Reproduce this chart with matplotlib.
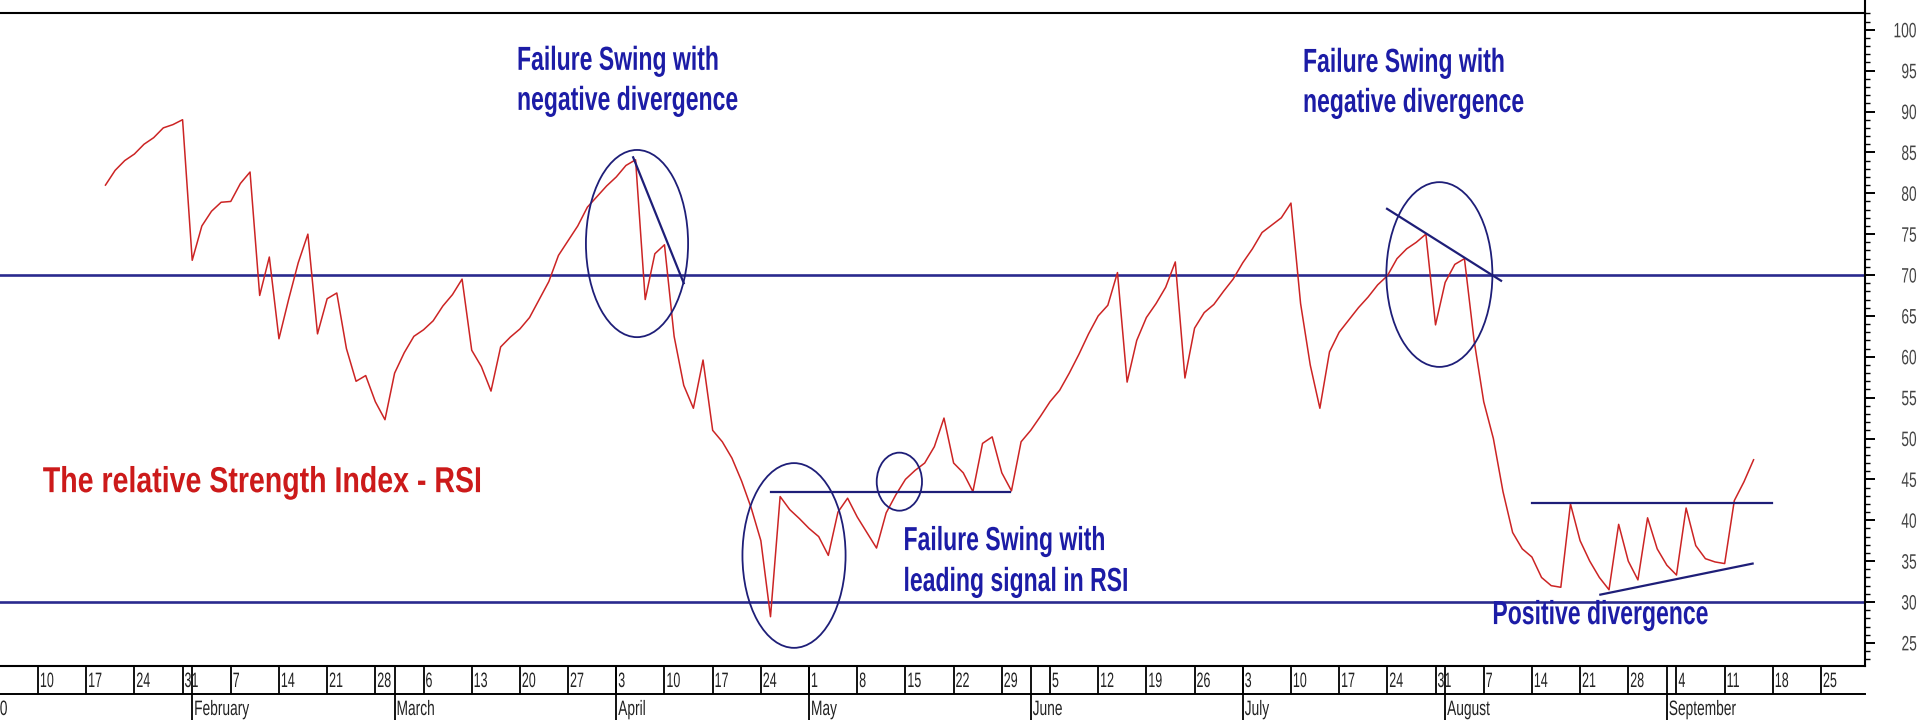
import numpy as np
import pandas as pd
import matplotlib
matplotlib.use("Agg")
import matplotlib.pyplot as plt
from matplotlib.patches import Ellipse
from matplotlib.lines import Line2D
from matplotlib import patheffects
from matplotlib.transforms import Affine2D

# ---------------- data ----------------
AXIS_ORIGIN = "2000-01-10"          # first labelled Monday of the date strip
SERIES_START = "2000-01-19"          # first RSI value (business days follow)
rsi_values = [
    81.0, 82.8, 84.0, 84.8, 86.0, 86.8, 88.0, 88.4, 89.0,              # Jan 19 - Jan 31
    71.8, 76.0, 77.8, 78.9, 79.0, 81.2, 82.6, 67.5, 72.2, 62.2,        # Feb
    67.0, 71.5, 75.0, 62.8, 67.1, 67.8, 61.0, 57.0, 57.7, 54.5,
    52.3, 58.0, 60.5, 62.5, 63.3, 64.4, 66.2, 67.6, 69.5, 60.8,        # Mar
    58.8, 55.8, 61.2, 62.4, 63.4, 64.8, 67.0, 69.2, 72.4, 74.2,
    76.0, 78.3, 79.6, 80.9, 82.0, 83.4, 84.1, 67.0, 72.6, 73.7,        # Apr
    62.5, 56.5, 53.7, 59.6, 51.0, 49.6, 47.6, 44.8, 41.5, 37.5,
    28.2, 42.9, 41.3, 40.2, 39.0, 38.0, 35.7, 41.0, 42.7, 40.4,        # May
    38.5, 36.6, 40.9, 43.1, 45.0, 46.1, 47.0, 49.0, 52.5, 47.0,
    45.8, 43.5, 49.4, 50.2, 45.8, 43.6, 49.6, 51.0, 52.7, 54.5,        # Jun
    55.9, 58.0, 60.3, 62.8, 65.0, 66.3, 70.3, 56.9, 62.0, 64.8,
    66.5, 68.5, 71.6, 57.4, 63.5, 65.4, 66.4, 68.0, 69.5, 71.5,        # Jul
    73.2, 75.2, 76.1, 77.0, 78.8, 66.5, 59.0, 53.7, 60.6, 63.0,
    64.5, 66.0, 67.3, 68.8, 69.9, 72.0, 73.2, 74.0, 75.0, 63.9,        # Aug
    69.1, 71.3, 72.0, 62.0, 54.5, 50.0, 43.5, 38.5, 36.5, 35.5,
    33.0, 32.0, 31.8, 42.0, 37.5, 35.0, 33.0, 31.5, 39.5, 35.0,        # Sep
    32.7, 40.3, 36.5, 34.5, 33.3, 41.5, 36.9, 35.3, 34.9, 34.7,
    42.4, 44.7, 47.4,
]
levels = [70, 30]
ytick_values = list(range(25, 101, 5))
week_start, week_end = "2000-01-10", "2000-09-25"
month_names = ["February", "March", "April", "May", "June", "July", "August", "September"]
month_first_days = ["2000-02-01", "2000-03-01", "2000-04-03", "2000-05-01",
                    "2000-06-01", "2000-07-03", "2000-08-01", "2000-09-01"]
year_label = "2000"

# annotation shapes, in (business-day index, RSI value)
circles = [  # centre x, centre y, width (days), height (RSI points)
    (62.15, 73.85, 10.6, 22.9),
    (78.44, 35.69, 10.7, 22.6),
    (89.37, 44.72, 4.7, 7.1),
    (145.4, 70.06, 11.0, 22.6),
]
trend_lines = [
    ((61.75, 84.4), (67.0, 69.0)),
    ((76.05, 43.4), (100.9, 43.4)),
    ((139.97, 78.1), (151.8, 69.3)),
    ((155.0, 42.1), (179.9, 42.1)),
    ((162.1, 30.9), (177.9, 34.7)),
]
notes = [  # x, baseline value, text
    (49.7, 95.1, "Failure Swing with"),
    (49.7, 90.2, "negative divergence"),
    (131.25, 94.85, "Failure Swing with"),
    (131.25, 89.95, "negative divergence"),
    (89.8, 36.35, "Failure Swing with"),
    (89.8, 31.35, "leading signal in RSI"),
    (150.9, 27.3, "Positive divergence"),
]
title_note = (0.5, 44.6, "The relative Strength Index - RSI")


# ------------- narrow (horizontally condensed) text look -------------
class Condense(patheffects.AbstractPathEffect):
    """Draw the glyphs squeezed horizontally, keeping the chosen edge fixed."""

    def __init__(self, sx, anchor="left"):
        super().__init__()
        self.sx = sx
        self.anchor = anchor

    def draw_path(self, renderer, gc, tpath, affine, rgbFace=None):
        x0 = 0.0
        if self.anchor != "left":
            ext = tpath.get_extents()
            x0 = ext.x1 if self.anchor == "right" else 0.5 * (ext.x0 + ext.x1)
        t = Affine2D().translate(-x0, 0).scale(self.sx, 1.0).translate(x0, 0)
        renderer.draw_path(gc, tpath, t + affine, rgbFace)


plt.rcParams["font.family"] = ["Liberation Sans", "DejaVu Sans"]

W, H = 1920, 720
fig = plt.figure(figsize=(W / 100, H / 100), dpi=100)
fig.patch.set_facecolor("white")

x_right_px, top_px, bottom_px = 1865, 12.7, 666
ax = fig.add_axes([0, 1 - bottom_px / H, x_right_px / W, (bottom_px - top_px) / H])
xmin, xmax = -3.943, 189.56
ax.set_xlim(xmin, xmax)
ax.set_ylim(22.17, 102.09)

origin = np.datetime64(AXIS_ORIGIN)
dates = pd.bdate_range(SERIES_START, periods=len(rsi_values))
x = np.busday_count(origin, dates.values.astype("datetime64[D]"))

navy = "#1e1e78"
for lv in levels:
    ax.axhline(lv, color="#2a2a8e", lw=1.9, zorder=2)
ax.plot(x, rsi_values, color="#cc2424", lw=1.1, zorder=3)

for cx, cy, w, h in circles:
    ax.add_patch(Ellipse((cx, cy), w, h, fill=False, ec=navy, lw=1.3, zorder=4))
for (x0, y0), (x1, y1) in trend_lines:
    ax.plot([x0, x1], [y0, y1], color=navy, lw=1.6, zorder=4)

blue = "#1c1ca6"
for tx, ty, s in notes:
    ax.text(tx, ty, s, color=blue, fontsize=24, fontweight="bold",
            ha="left", va="baseline", zorder=5,
            path_effects=[Condense(0.69)])
ax.text(title_note[0], title_note[1], title_note[2], color="#cc1a1a", fontsize=26,
        fontweight="bold", ha="left", va="center", zorder=5,
        path_effects=[Condense(0.79)])

ax.spines["left"].set_visible(False)
for side in ["top", "right", "bottom"]:
    ax.spines[side].set_linewidth(1.5)
    ax.spines[side].set_color("black")
ax.set_xticks([])
ax.yaxis.tick_right()
ax.set_yticks(ytick_values)
ax.set_yticks(np.arange(23, 103, 1), minor=True)
ax.tick_params(axis="y", which="major", direction="out", length=7.5, width=1.4,
               pad=30, labelsize=15, labelcolor="#444444")
ax.tick_params(axis="y", which="minor", direction="out", length=3.6, width=1.0)
for lab in ax.get_yticklabels():
    lab.set_horizontalalignment("right")
    lab.set_path_effects([Condense(0.66, anchor="right")])

# right frame continues above the top border
fig.add_artist(Line2D([x_right_px / W] * 2, [1 - top_px / H, 1.0], color="black", lw=1.5))

# ---------------- date strip ----------------
ax2 = fig.add_axes([0, 0, x_right_px / W, 54 / H])
ax2.set_xlim(xmin, xmax)
ax2.set_ylim(0, 54)
ax2.axis("off")
ax2.plot([xmin, xmax], [26, 26], color="black", lw=1.4, clip_on=False)

mondays = pd.date_range(week_start, week_end, freq="W-MON")
mx = np.busday_count(origin, mondays.values.astype("datetime64[D]"))
ax2.vlines(mx, 26, 54, color="black", lw=1.3)
for xi, d in zip(mx, mondays):
    ax2.text(xi + 0.2, 33, str(d.day), ha="left", va="baseline", fontsize=15,
             color="#222222", path_effects=[Condense(0.6)])

mfx = np.busday_count(origin, np.array(month_first_days, dtype="datetime64[D]"))
ax2.vlines(mfx, 0, 54, color="black", lw=1.3)
for xi, name in zip(mfx, month_names):
    ax2.text(xi + 0.2, 5, name, ha="left", va="baseline", fontsize=15,
             color="#222222", path_effects=[Condense(0.66)])
ax2.text(-3.1, 5, year_label, ha="right", va="baseline", fontsize=15,
         color="#222222", path_effects=[Condense(0.66, anchor="right")])

fig.savefig("out.png", dpi=100, facecolor="white")
